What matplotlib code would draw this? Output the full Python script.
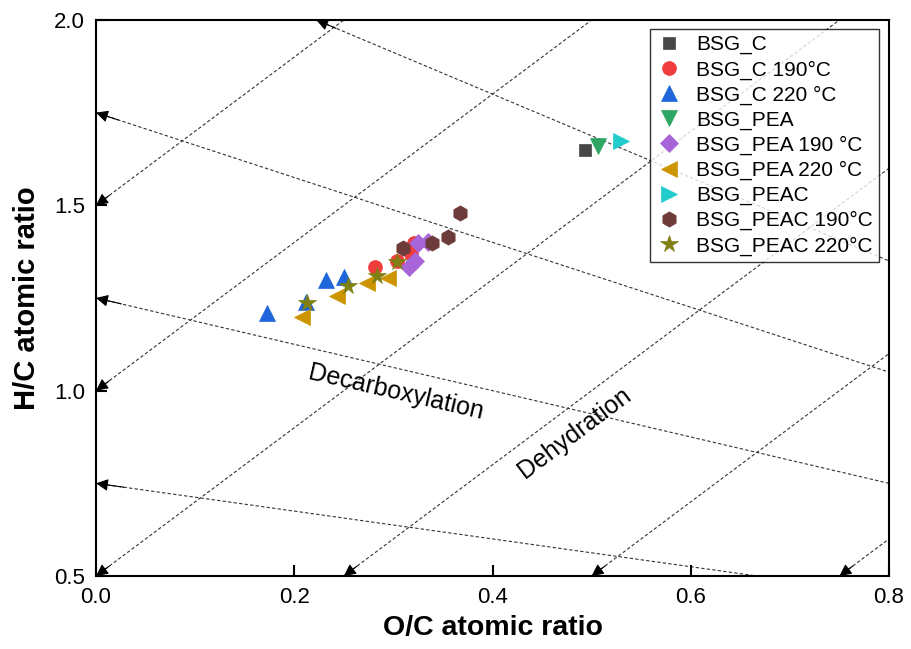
import numpy as np
import matplotlib
matplotlib.use('Agg')
import matplotlib.pyplot as plt

plt.rcParams['font.family'] = ['Liberation Sans', 'DejaVu Sans']

# --- data ---
bsg_c_oc = [0.493]
bsg_c_hc = [1.649]
bsg_c190_oc = [0.281, 0.304, 0.318, 0.321]
bsg_c190_hc = [1.334, 1.350, 1.368, 1.398]
bsg_c220_oc = [0.172, 0.212, 0.232, 0.250]
bsg_c220_hc = [1.210, 1.239, 1.299, 1.307]
bsg_pea_oc = [0.506]
bsg_pea_hc = [1.660]
bsg_pea190_oc = [0.316, 0.322, 0.325, 0.335]
bsg_pea190_hc = [1.334, 1.350, 1.398, 1.401]
bsg_pea220_oc = [0.208, 0.243, 0.273, 0.295]
bsg_pea220_hc = [1.199, 1.255, 1.290, 1.304]
bsg_peac_oc = [0.530]
bsg_peac_hc = [1.674]
bsg_peac190_oc = [0.310, 0.339, 0.355, 0.367]
bsg_peac190_hc = [1.385, 1.398, 1.415, 1.479]
bsg_peac220_oc = [0.213, 0.254, 0.283, 0.304]
bsg_peac220_hc = [1.237, 1.282, 1.310, 1.347]

# guide lines: decarboxylation lines run from (0, h) towards CO2 at (2, 0),
# dehydration lines have slope 2 (loss of H2O)
decarb_h0 = [2.25, 1.75, 1.25, 0.75]
dehyd_b = [1.5, 1.0, 0.5, 0.0, -0.5, -1.0]

xlim = (0.0, 0.8)
ylim = (0.5, 2.0)

series = [
    (bsg_c_oc, bsg_c_hc, 'BSG_C', 's', '#474747', 9),
    (bsg_c190_oc, bsg_c190_hc, 'BSG_C 190°C', 'o', '#F03C3C', 10),
    (bsg_c220_oc, bsg_c220_hc, 'BSG_C 220 °C', '^', '#1F66DB', 11),
    (bsg_pea_oc, bsg_pea_hc, 'BSG_PEA', 'v', '#2EA563', 11),
    (bsg_pea190_oc, bsg_pea190_hc, 'BSG_PEA 190 °C', 'D', '#A865D9', 9),
    (bsg_pea220_oc, bsg_pea220_hc, 'BSG_PEA 220 °C', '<', '#CC9500', 11),
    (bsg_peac_oc, bsg_peac_hc, 'BSG_PEAC', '>', '#22CCCC', 11),
    (bsg_peac190_oc, bsg_peac190_hc, 'BSG_PEAC 190°C', 'h', '#6E3B3B', 11),
    (bsg_peac220_oc, bsg_peac220_hc, 'BSG_PEAC 220°C', '*', '#7F7F12', 13),
]


def clip_line(slope, icpt):
    """Return (start, end) of y = slope*x + icpt inside the axes box, start = lower-left end."""
    pts = []
    for x in xlim:
        y = slope * x + icpt
        if ylim[0] - 1e-9 <= y <= ylim[1] + 1e-9:
            pts.append((x, y))
    for y in ylim:
        x = (y - icpt) / slope
        if xlim[0] - 1e-9 <= x <= xlim[1] + 1e-9:
            pts.append((x, y))
    pts = sorted(set((round(p[0], 6), round(p[1], 6)) for p in pts))
    if len(pts) < 2:
        return None
    return pts[0], pts[-1]


def draw_guide(ax, slope, icpt):
    seg = clip_line(slope, icpt)
    if seg is None:
        return
    (x0, y0), (x1, y1) = seg
    # arrow end is the one at the left / bottom edge
    ax.plot([x0, x1], [y0, y1], color='#333333', lw=0.8,
            linestyle=(0, (3, 2)), zorder=1)
    dx, dy = x1 - x0, y1 - y0
    n = np.hypot(dx, dy)
    ax.annotate('', xy=(x0, y0), xytext=(x0 + 0.03 * dx / n, y0 + 0.03 * dy / n),
                arrowprops=dict(arrowstyle='-|>', color='black', lw=0.8,
                                mutation_scale=18, shrinkA=0, shrinkB=0),
                zorder=2, annotation_clip=False)


fig = plt.figure(figsize=(9.12, 6.49), dpi=100)
ax = fig.add_axes([0.1053, 0.1125, 0.8695, 0.8567])

for h in decarb_h0:
    draw_guide(ax, -h / 2.0, h)
for b in dehyd_b:
    draw_guide(ax, 2.0, b)

for oc, hc, lab, mk, col, ms in series:
    ax.plot(oc, hc, linestyle='none', marker=mk, color=col, markersize=ms,
            markeredgecolor=col, markeredgewidth=0.5, label=lab, zorder=3)

ax.text(0.303, 0.996, 'Decarboxylation', rotation=-13, fontsize=18,
        ha='center', va='center', rotation_mode='anchor')
ax.text(0.483, 0.886, 'Dehydration', rotation=37, fontsize=18,
        ha='center', va='center', rotation_mode='anchor')

ax.set_xlim(*xlim)
ax.set_ylim(*ylim)
ax.set_xticks([0.0, 0.2, 0.4, 0.6, 0.8])
ax.set_yticks([0.5, 1.0, 1.5, 2.0])
ax.xaxis.set_major_formatter(matplotlib.ticker.FormatStrFormatter('%.1f'))
ax.yaxis.set_major_formatter(matplotlib.ticker.FormatStrFormatter('%.1f'))
ax.tick_params(direction='in', length=8, width=1.5, labelsize=16, pad=8)
for spine in ax.spines.values():
    spine.set_linewidth(1.5)

ax.set_xlabel('O/C atomic ratio', fontsize=20.5, fontweight='bold', labelpad=5)
ax.set_ylabel('H/C atomic ratio', fontsize=21, fontweight='bold', labelpad=9)

leg = ax.legend(loc='upper right', bbox_to_anchor=(0.9874, 0.9838), borderaxespad=0,
                fontsize=15, frameon=True, fancybox=False, edgecolor='black',
                handletextpad=0.7, labelspacing=0.28, borderpad=0.3, handlelength=1.2)
leg.get_frame().set_linewidth(1.0)

plt.savefig('out.png', dpi=100)
plt.close()
